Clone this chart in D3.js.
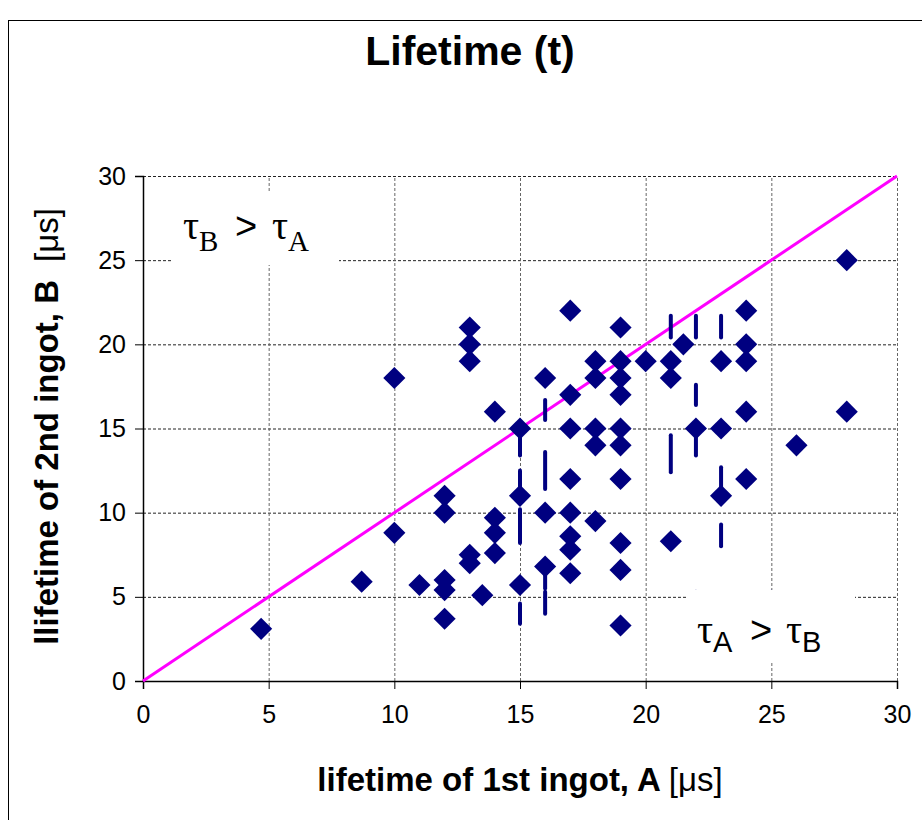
<!DOCTYPE html>
<html>
<head>
<meta charset="utf-8">
<script src="https://cdn.jsdelivr.net/npm/d3@7"></script>
<style>
  html, body { margin: 0; padding: 0; background: #fff; }
  svg { display: block; }
</style>
</head>
<body>
<svg id="chart" width="922" height="820"></svg>
<script>
// ---- data ----
const lifetimeA = [4.7, 8.7, 10, 10, 11, 12, 12, 12, 12, 12, 13, 13, 13, 13, 13, 13.5, 14, 14, 14, 14,
  15, 15, 15, 16, 16, 16, 17, 17, 17, 17, 17, 17, 17, 17, 18, 18, 18, 18, 18,
  19, 19, 19, 19, 19, 19, 19, 19, 19, 19, 20, 21, 21, 21, 21.5, 22, 23, 23, 23,
  24, 24, 24, 24, 24, 26, 28, 28];
const lifetimeB = [3.1, 5.9, 18, 8.8, 5.7, 11, 10, 6.0, 5.4, 3.7, 21, 20, 19, 7.5, 7.0, 5.1, 16, 9.7, 8.8, 7.6,
  15, 11, 5.7, 18, 10, 6.8, 22, 17, 15, 12, 10, 8.6, 7.8, 6.4, 19, 18, 15, 14, 9.5,
  21, 19, 18, 17, 15, 14, 12, 8.2, 6.6, 3.3, 19, 19, 18, 8.3, 20, 15, 19, 15, 11,
  22, 20, 19, 16, 12, 14, 25, 16];

// short vertical dash marks (x, from, to)
const dashX    = [15, 15, 15, 15, 16, 16, 16, 16, 21, 21, 22, 22, 22, 22, 23, 23, 23, 25];
const dashFrom = [13.4, 11.2, 8.2, 3.4, 15.5, 11.4, 5.5, 4.0, 20.4, 12.4, 20.4, 16.4, 13.4, 4.0, 20.4, 11.0, 8.0, 4.0];
const dashTo   = [15.0, 12.5, 10.2, 4.6, 16.7, 13.6, 6.8, 5.3, 21.7, 14.6, 21.7, 17.6, 15.0, 5.3, 21.7, 12.7, 9.3, 5.3];

const xTicks = [0, 5, 10, 15, 20, 25, 30];
const yTicks = [0, 5, 10, 15, 20, 25, 30];
const equalLine = [0, 30];

const titleText = "Lifetime (t)";
const xLabelBold = "lifetime of 1st ingot, A";
const yLabelBold = "llifetime of 2nd ingot, B";
const unitText = "[\u03bcs]";

// ---- drawing ----
const svg = d3.select("#chart");
const x = d3.scaleLinear().domain([0, 30]).range([143, 897]);
const y = d3.scaleLinear().domain([0, 30]).range([681, 176]);
const SANS = "Arial, 'Liberation Sans', Helvetica, sans-serif";
const SERIF = "'Times New Roman', 'Liberation Serif', serif";
const NAVY = "#000080";

// outer frame
svg.append("rect").attr("x", 8.5).attr("y", 20.5).attr("width", 960).attr("height", 900)
  .attr("fill", "none").attr("stroke", "#000").attr("stroke-width", 1);

// gridlines
const grid = svg.append("g");
grid.selectAll("line.h").data(yTicks.filter(d => d > 0)).join("line")
  .attr("x1", x(0)).attr("x2", x(30)).attr("y1", d => y(d) + 0.5).attr("y2", d => y(d) + 0.5)
  .attr("stroke", "#222").attr("stroke-width", 1).attr("stroke-dasharray", "3,2");
grid.selectAll("line.v").data(xTicks.filter(d => d > 0)).join("line")
  .attr("y1", y(0)).attr("y2", y(30)).attr("x1", d => x(d) + 0.5).attr("x2", d => x(d) + 0.5)
  .attr("stroke", "#666").attr("stroke-width", 1).attr("stroke-dasharray", "3,2");

// axes
const xAxis = d3.axisBottom(x).tickValues(xTicks).tickSize(8).tickPadding(16).tickFormat(d3.format("d"));
const yAxis = d3.axisLeft(y).tickValues(yTicks).tickSize(8).tickPadding(9).tickFormat(d3.format("d"));
const gx = svg.append("g").attr("transform", `translate(0,${y(0)})`).call(xAxis);
const gy = svg.append("g").attr("transform", `translate(${x(0)},0)`).call(yAxis);
[gx, gy].forEach(g => {
  g.select(".domain").attr("stroke", "#000").attr("stroke-width", 1.5);
  g.selectAll(".tick line").attr("stroke", "#000");
  g.selectAll(".tick text").attr("font-family", SANS).attr("font-size", 25).attr("fill", "#000");
});

// equality line
svg.append("line")
  .attr("x1", x(equalLine[0])).attr("y1", y(equalLine[0]))
  .attr("x2", x(equalLine[1])).attr("y2", y(equalLine[1]))
  .attr("stroke", "#ff00ff").attr("stroke-width", 3);

// dash marks
svg.append("g").selectAll("line").data(dashX.map((d, i) => i)).join("line")
  .attr("x1", i => x(dashX[i])).attr("x2", i => x(dashX[i]))
  .attr("y1", i => y(dashFrom[i])).attr("y2", i => y(dashTo[i]))
  .attr("stroke", NAVY).attr("stroke-width", 4).attr("stroke-linecap", "round");

// diamonds
const diamond = d3.symbol().type(d3.symbolSquare).size(245);
svg.append("g").selectAll("path").data(lifetimeA.map((d, i) => i)).join("path")
  .attr("d", diamond)
  .attr("transform", i => `translate(${x(lifetimeA[i])},${y(lifetimeB[i])}) rotate(45)`)
  .attr("fill", NAVY);

// annotation boxes
svg.append("rect").attr("x", 173).attr("y", 192).attr("width", 166).attr("height", 73).attr("fill", "#fff");
svg.append("rect").attr("x", 688).attr("y", 590).attr("width", 167).attr("height", 72).attr("fill", "#fff");

const t1 = svg.append("text").attr("y", 239).attr("font-family", SERIF).attr("font-size", 40).attr("fill", "#000");
t1.append("tspan").attr("x", 183).text("\u03c4");
t1.append("tspan").attr("font-size", 29).attr("dy", 12).text("B");
t1.append("tspan").attr("x", 235).attr("dy", -12).attr("font-family", SANS).attr("font-size", 38).text(">");
t1.append("tspan").attr("x", 272).text("\u03c4");
t1.append("tspan").attr("font-size", 29).attr("dy", 12).text("A");

const t2 = svg.append("text").attr("y", 643).attr("font-family", SANS).attr("font-size", 40).attr("fill", "#000");
t2.append("tspan").attr("x", 697).attr("font-family", SERIF).text("\u03c4");
t2.append("tspan").attr("font-size", 29).attr("dy", 9).text("A");
t2.append("tspan").attr("x", 750).attr("dy", -9).attr("font-size", 38).text(">");
t2.append("tspan").attr("x", 786).attr("font-family", SERIF).text("\u03c4");
t2.append("tspan").attr("font-size", 29).attr("dy", 9).text("B");

// title
svg.append("text").attr("x", 470).attr("y", 65).attr("text-anchor", "middle")
  .attr("font-family", SANS).attr("font-weight", "bold").attr("font-size", 41).text(titleText);

// x label
const xl = svg.append("text").attr("x", 520).attr("y", 791).attr("text-anchor", "middle")
  .attr("font-family", SANS).attr("font-size", 33).attr("fill", "#000");
xl.append("tspan").attr("font-weight", "bold").text(xLabelBold + " ");
xl.append("tspan").text(unitText);

// y label
const yl = svg.append("text").attr("transform", `translate(58,${(y(0) + y(30)) / 2 - 2}) rotate(-90)`)
  .attr("text-anchor", "middle").attr("font-family", SANS).attr("font-size", 33).attr("fill", "#000");
yl.append("tspan").attr("font-weight", "bold").text(yLabelBold);
yl.append("tspan").attr("dx", 18).text(unitText);
</script>
</body>
</html>
